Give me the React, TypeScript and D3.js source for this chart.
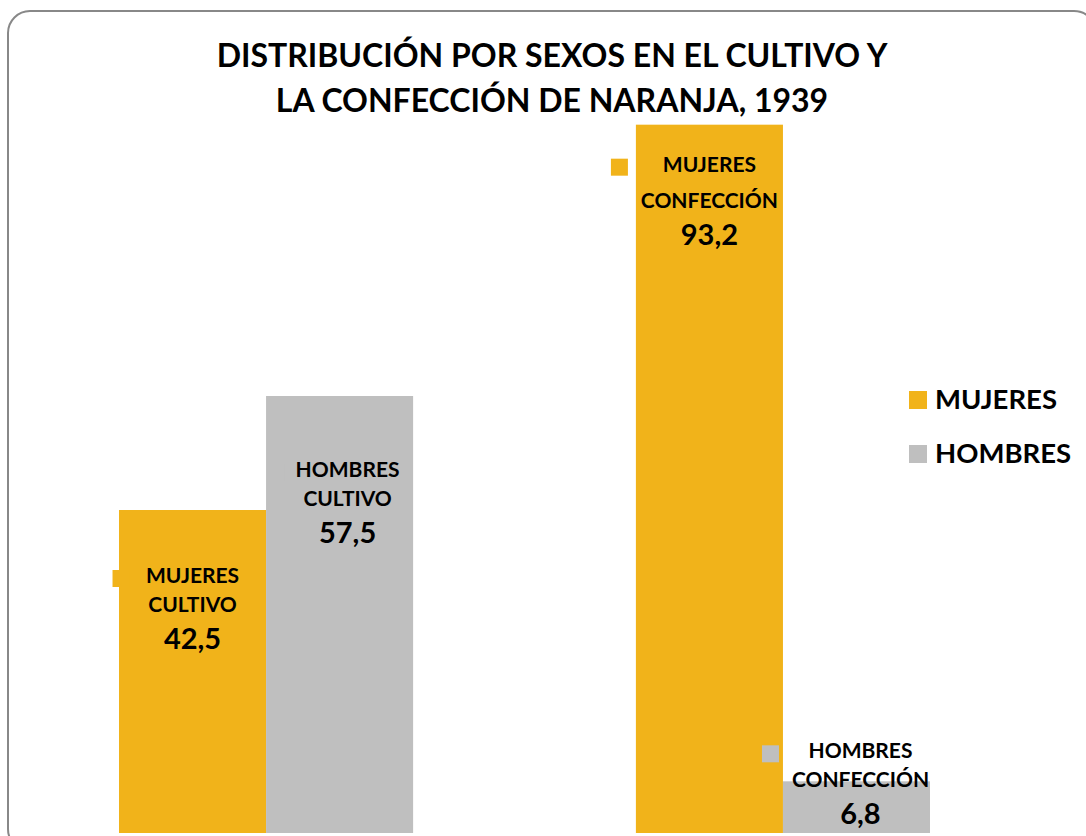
import React from 'react';
import * as d3 from 'd3';

// Chart data
const categories = ['CULTIVO', 'CONFECCIÓN'];
const series = ['MUJERES', 'HOMBRES'];
const mujeresValues = [42.5, 93.2];
const hombresValues = [57.5, 6.8];
const titleLines = ['DISTRIBUCIÓN POR SEXOS EN EL CULTIVO Y', 'LA CONFECCIÓN DE NARANJA, 1939'];

const COLORS: Record<string, string> = { MUJERES: '#F1B31A', HOMBRES: '#BFBFBF' };
const FONT = 'Lato, "Open Sans", sans-serif';

const W = 1086;
const H = 836;

// per-bar label placement, relative to bar top (Excel custom label positions)
const labelOffsets: Record<string, number> = {
  'MUJERES-CULTIVO': 73,
  'HOMBRES-CULTIVO': 81,
  'MUJERES-CONFECCIÓN': 47,
  'HOMBRES-CONFECCIÓN': -23,
};
const labelGaps: Record<string, number> = {
  'MUJERES-CONFECCIÓN': 36,
};

export default function App() {
  const x0 = d3.scaleBand<string>()
    .domain(categories)
    .range([7.5, 1041.5])
    .paddingInner(0.431)
    .paddingOuter(0.2157);
  const x1 = d3.scaleBand<string>().domain(series).range([0, x0.bandwidth()]);
  const y = d3.scaleLinear().domain([0, 100]).range([833, 73]);

  const fmt = (v: number) => d3.format('.1f')(v).replace('.', ',');

  const bars = categories.flatMap((cat, i) =>
    series.map((s) => ({
      cat,
      s,
      v: s === 'MUJERES' ? mujeresValues[i] : hombresValues[i],
    }))
  );

  return (
    <div style={{ position: 'absolute', left: 0, top: 0 }}>
      <svg width={W} height={H} style={{ display: 'block', fontFamily: FONT }}>
        <rect x={0} y={0} width={W} height={H} fill="#fff" />
        <rect x={8} y={11} width={1088} height={840} rx={22} ry={22}
          fill="#fff" stroke="#888" strokeWidth={2} />

        {titleLines.map((t, i) => (
          <text key={t} x={552} y={67 + i * 45} textAnchor="middle"
            fontSize={32} fontWeight={700} fill="#000">{t}</text>
        ))}

        {bars.map((b) => {
          const bx = (x0(b.cat) ?? 0) + (x1(b.s) ?? 0);
          return (
            <rect key={`${b.s}-${b.cat}`} x={bx} y={y(b.v)}
              width={x1.bandwidth()} height={y(0) - y(b.v)} fill={COLORS[b.s]} />
          );
        })}

        {bars.map((b) => {
          const key = `${b.s}-${b.cat}`;
          const cx = (x0(b.cat) ?? 0) + (x1(b.s) ?? 0) + x1.bandwidth() / 2;
          const lines = [b.s, b.cat];
          const wide = b.cat === 'CONFECCIÓN' ? 129 : 92;
          const tx = b.s === 'HOMBRES' ? cx + (b.cat === 'CULTIVO' ? 8 : 4) : cx;
          const top = y(b.v) + labelOffsets[key];
          const gap = labelGaps[key] ?? 29;
          return (
            <g key={`lbl-${key}`}>
              <rect x={tx - wide / 2 - 34} y={top - 13} width={17} height={17} fill={COLORS[b.s]} />
              {lines.map((l, i) => (
                <text key={l} x={tx} y={top + i * gap} textAnchor="middle"
                  fontSize={21} fontWeight={700} fill="#000">{l}</text>
              ))}
              <text x={tx} y={top + gap + 37} textAnchor="middle"
                fontSize={29} fontWeight={700} fill="#000">{fmt(b.v)}</text>
            </g>
          );
        })}

        {series.map((s, i) => (
          <g key={`leg-${s}`} transform={`translate(909, ${391 + i * 54})`}>
            <rect x={0} y={0} width={18} height={18} fill={COLORS[s]} />
            <text x={26} y={18} fontSize={27.5} fontWeight={700} fill="#000">{s}</text>
          </g>
        ))}
      </svg>
    </div>
  );
}
